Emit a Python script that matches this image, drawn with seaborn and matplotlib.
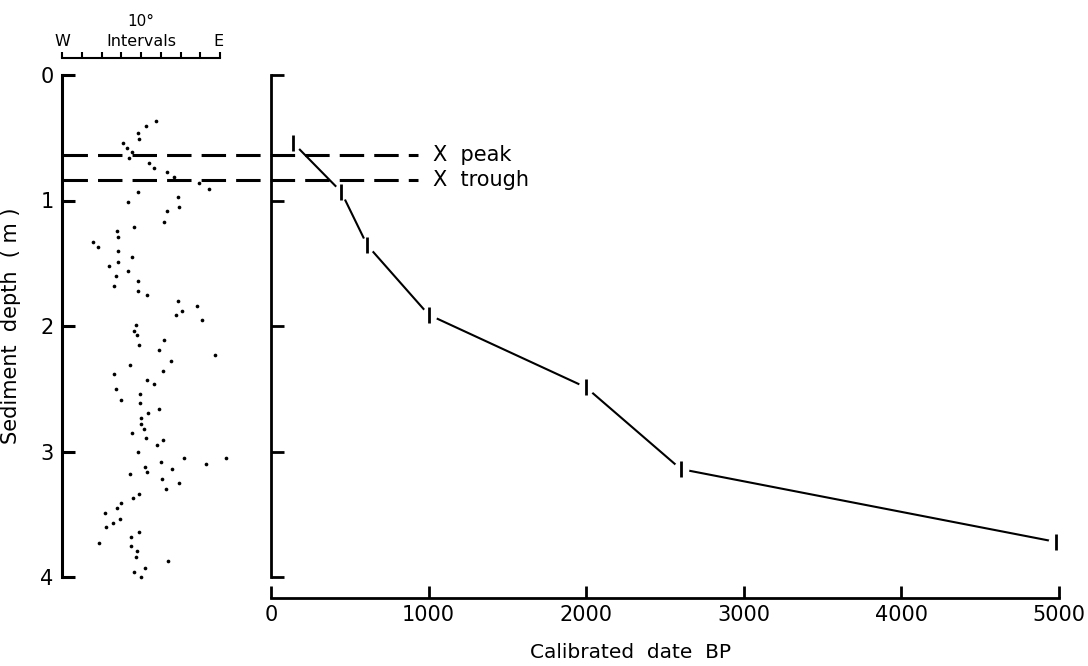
import matplotlib.pyplot as plt
import numpy as np
import pandas as pd
import seaborn as sns

# declination (deg, W negative / E positive) against sediment depth (m)
decl = [7.7, 2.5, -1.5, -0.9, -9.1, -7.1, -4.6, -5.9, 4.2, 6.7,
        13.2, 16.6, 29.4, 34.4, -1.5, 18.6, -6.6, 19.2, 13.2, 11.8,
        -3.4, -12.0, -11.5, -24.5, -21.9, -11.5, -4.6, -11.6, -16.1, -6.4,
        -12.8, -1.5, -13.5, -1.5, 3.0, 18.6, 28.5, 20.9, 17.9, 30.9,
        -2.4, -3.7, -2.0, 11.4, -1.0, 9.0, 37.3, 15.0, -5.7, 11.1,
        -13.8, 2.9, 6.6, -12.7, -0.7, -10.0, -0.4, 9.0, 3.7, -0.2,
        0.2, 1.4, -4.6, 2.5, 11.1, 7.9, -1.5, 21.8, 43.0, 10.0,
        33.1, 1.9, 15.7, 2.9, -5.4, 10.8, 19.4, 12.7, -1.2, -4.2,
        -10.3, -12.0, -18.4, -10.8, -14.3, -17.9, -1.0, -5.1, -21.4, -5.1,
        -1.9, -2.5, 13.8, 2.0, -3.4, -0.2]
depth = [0.37, 0.41, 0.46, 0.51, 0.54, 0.58, 0.61, 0.66, 0.70, 0.74,
         0.77, 0.81, 0.86, 0.91, 0.93, 0.97, 1.01, 1.05, 1.08, 1.17,
         1.21, 1.24, 1.29, 1.33, 1.37, 1.40, 1.45, 1.49, 1.52, 1.56,
         1.60, 1.64, 1.68, 1.72, 1.75, 1.80, 1.84, 1.88, 1.91, 1.95,
         1.99, 2.04, 2.07, 2.11, 2.15, 2.19, 2.23, 2.28, 2.31, 2.36,
         2.38, 2.43, 2.46, 2.50, 2.54, 2.59, 2.61, 2.66, 2.69, 2.73,
         2.78, 2.82, 2.85, 2.89, 2.91, 2.95, 3.00, 3.05, 3.05, 3.08,
         3.10, 3.12, 3.14, 3.16, 3.18, 3.22, 3.25, 3.30, 3.34, 3.37,
         3.41, 3.45, 3.49, 3.54, 3.57, 3.60, 3.64, 3.68, 3.73, 3.75,
         3.79, 3.84, 3.87, 3.93, 3.96, 4.00]

# age-depth model
age_bp = [140, 445, 610, 1000, 2000, 2600, 4980]
age_depth = [0.54, 0.93, 1.355, 1.91, 2.49, 3.14, 3.72]

peak_depth = 0.64
trough_depth = 0.84

scatter_df = pd.DataFrame({"decl": decl, "depth": depth})
age_df = pd.DataFrame({"age": age_bp, "depth": age_depth})

sns.set_theme(style="ticks")
plt.rcParams['font.family'] = ['DejaVu Sans']
for k in ['text.color', 'axes.labelcolor', 'xtick.color', 'ytick.color',
          'axes.edgecolor']:
    plt.rcParams[k] = 'black'

W, H = 1088, 666
fig = plt.figure(figsize=(W / 100, H / 100), dpi=100)


def box(x0, y0, x1, y1):
    return [x0 / W, 1 - y1 / H, (x1 - x0) / W, (y1 - y0) / H]


ax1 = fig.add_axes(box(62, 75, 220, 577))
ax2 = fig.add_axes(box(271, 75, 1059, 577))

# left panel: declination dots
sns.scatterplot(data=scatter_df, x="decl", y="depth", ax=ax1, color="black",
                s=7, linewidth=0, clip_on=False)
ax1.set_xlim(-40, 40)
ax1.set_ylim(4, 0)
ax1.spines['right'].set_visible(False)
ax1.spines['bottom'].set_visible(False)
ax1.spines['left'].set_linewidth(2.2)
ax1.spines['top'].set_position(('outward', 12.2))
ax1.spines['top'].set_linewidth(1.5)
ax1.set_xticks(np.arange(-40, 41, 10))
ax1.tick_params(axis='x', bottom=False, top=True, labelbottom=False,
                labeltop=False, direction='out', length=4, width=1.5)
ax1.set_yticks([0, 1, 2, 3, 4])
ax1.tick_params(axis='y', direction='in', length=9, width=2.2,
                labelsize=15, pad=6)
ax1.set_xlabel("")
ax1.set_ylabel("Sediment  depth  ( m )", fontsize=15, labelpad=14)
trans = ax1.get_xaxis_transform()
ax1.text(-40, 1.066, "W", transform=trans, ha='center', va='center', fontsize=11.5)
ax1.text(0, 1.066, "Intervals", transform=trans, ha='center', va='center', fontsize=11.5)
ax1.text(39, 1.066, "E", transform=trans, ha='center', va='center', fontsize=11.5)
ax1.text(0, 1.106, "10°", transform=trans, ha='center', va='center', fontsize=11)

# right panel: age-depth curve
sns.lineplot(data=age_df, x="age", y="depth", ax=ax2, color="black",
             lw=1.5, sort=False, estimator=None)
ax2.scatter(age_bp, age_depth, s=130, color="white", linewidth=0, zorder=3)
ax2.scatter(age_bp, age_depth, s=140, marker="|", color="black",
            linewidth=2, zorder=4)
ax2.set_xlim(0, 5000)
ax2.set_ylim(4, 0)
ax2.spines['right'].set_visible(False)
ax2.spines['top'].set_visible(False)
ax2.spines['left'].set_linewidth(2.0)
ax2.spines['bottom'].set_linewidth(2.0)
ax2.spines['bottom'].set_position(('outward', 15))
ax2.set_xticks(np.arange(0, 5001, 1000))
ax2.set_yticks([0, 1, 2, 3, 4])
ax2.tick_params(axis='y', direction='in', length=9, width=2, labelleft=False)
ax2.tick_params(axis='x', direction='in', length=9, width=2,
                labelsize=15, pad=5)
ax2.set_ylabel("")
ax2.set_xlabel("Calibrated  date  BP", fontsize=14.5)
ax2.xaxis.set_label_coords(0.456, -0.132)

# marker horizons across both panels
for d, name in [(peak_depth, "X  peak"), (trough_depth, "X  trough")]:
    ax2.axhline(d, xmin=-0.264, xmax=0.1866, color="black", lw=2.2,
                dashes=(8, 3.3), clip_on=False, zorder=2)
    ax2.text(1030, d, name, ha='left', va='center', fontsize=15)

fig.savefig("out.png", dpi=100)
